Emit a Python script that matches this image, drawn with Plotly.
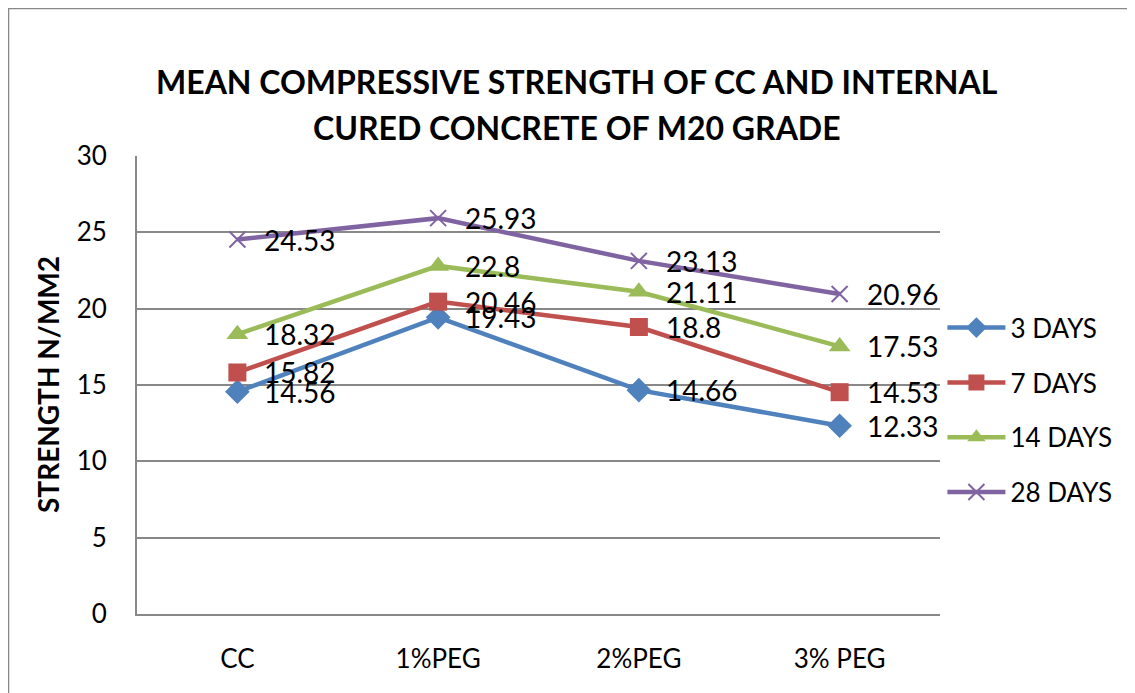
import plotly.graph_objects as go

categories = ["CC", "1%PEG", "2%PEG", "3% PEG"]
days_3 = [14.56, 19.43, 14.66, 12.33]
days_7 = [15.82, 20.46, 18.8, 14.53]
days_14 = [18.32, 22.8, 21.11, 17.53]
days_28 = [24.53, 25.93, 23.13, 20.96]

series = [
    ("3 DAYS", days_3, "#4F81BD", dict(symbol="diamond", size=19)),
    ("7 DAYS", days_7, "#C0504D", dict(symbol="square", size=18)),
    ("14 DAYS", days_14, "#9BBB59", dict(symbol="triangle-up", size=19)),
    ("28 DAYS", days_28, "#8064A2", dict(symbol="x-thin", size=16, line=dict(width=2, color="#8064A2"))),
]

FONT = "Lato, Calibri, sans-serif"

fig = go.Figure()
for i, (name, vals, color, marker) in enumerate(series):
    fig.add_trace(go.Scatter(
        x=categories, y=vals, mode="lines+markers", name=name,
        line=dict(color=color, width=4.5),
        marker=dict(color=color, **marker),
        legendgroup=f"g{i}",
    ))
    for c, v in zip(categories, vals):
        fig.add_annotation(x=c, y=v, text=f"{v:g}", showarrow=False,
                           xanchor="left", yanchor="middle", xshift=25,
                           font=dict(family=FONT, size=28, color="#000"))

# chart title lines and y-axis title
fig.add_annotation(xref="paper", yref="paper", x=0.548, y=1.1616,
                   text="<b>MEAN COMPRESSIVE STRENGTH OF CC AND INTERNAL</b>",
                   showarrow=False, xanchor="center", yanchor="middle",
                   font=dict(family=FONT, size=32, color="#000"))
fig.add_annotation(xref="paper", yref="paper", x=0.548, y=1.0633,
                   text="<b>CURED CONCRETE OF M20 GRADE</b>",
                   showarrow=False, xanchor="center", yanchor="middle",
                   font=dict(family=FONT, size=32, color="#000"))
fig.add_annotation(xref="paper", yref="paper", x=-0.1108, y=0.5,
                   text="<b>STRENGTH N/MM2</b>", textangle=-90,
                   showarrow=False, xanchor="center", yanchor="middle",
                   font=dict(family=FONT, size=28, color="#000"))

fig.add_shape(type="rect", xref="paper", yref="paper",
              x0=-0.160, x1=1.4, y0=-0.4, y1=1.322,
              line=dict(color="#888", width=1.5), layer="below")

fig.update_layout(
    width=1127, height=685,
    margin=dict(l=129, r=195, t=148, b=79),
    paper_bgcolor="white", plot_bgcolor="white",
    font=dict(family=FONT, size=26, color="#000"),
    legend=dict(x=1.003, y=0.445, yanchor="middle", xanchor="left",
                font=dict(family=FONT, size=26), tracegroupgap=18,
                traceorder="grouped", itemwidth=58, bgcolor="rgba(0,0,0,0)"),
    showlegend=True,
)
fig.update_xaxes(type="category", range=[-0.5, 3.5], showgrid=False,
                 showline=True, linecolor="#888", linewidth=2,
                 ticks="", ticklabelstandoff=21,
                 tickfont=dict(family=FONT, size=26))
fig.update_yaxes(range=[0, 30], dtick=5, showgrid=True, gridcolor="#888",
                 gridwidth=1.5, showline=True, linecolor="#888", linewidth=2,
                 zeroline=False, ticks="", ticklabelstandoff=23,
                 tickfont=dict(family=FONT, size=26))

fig.write_html("out.html")
